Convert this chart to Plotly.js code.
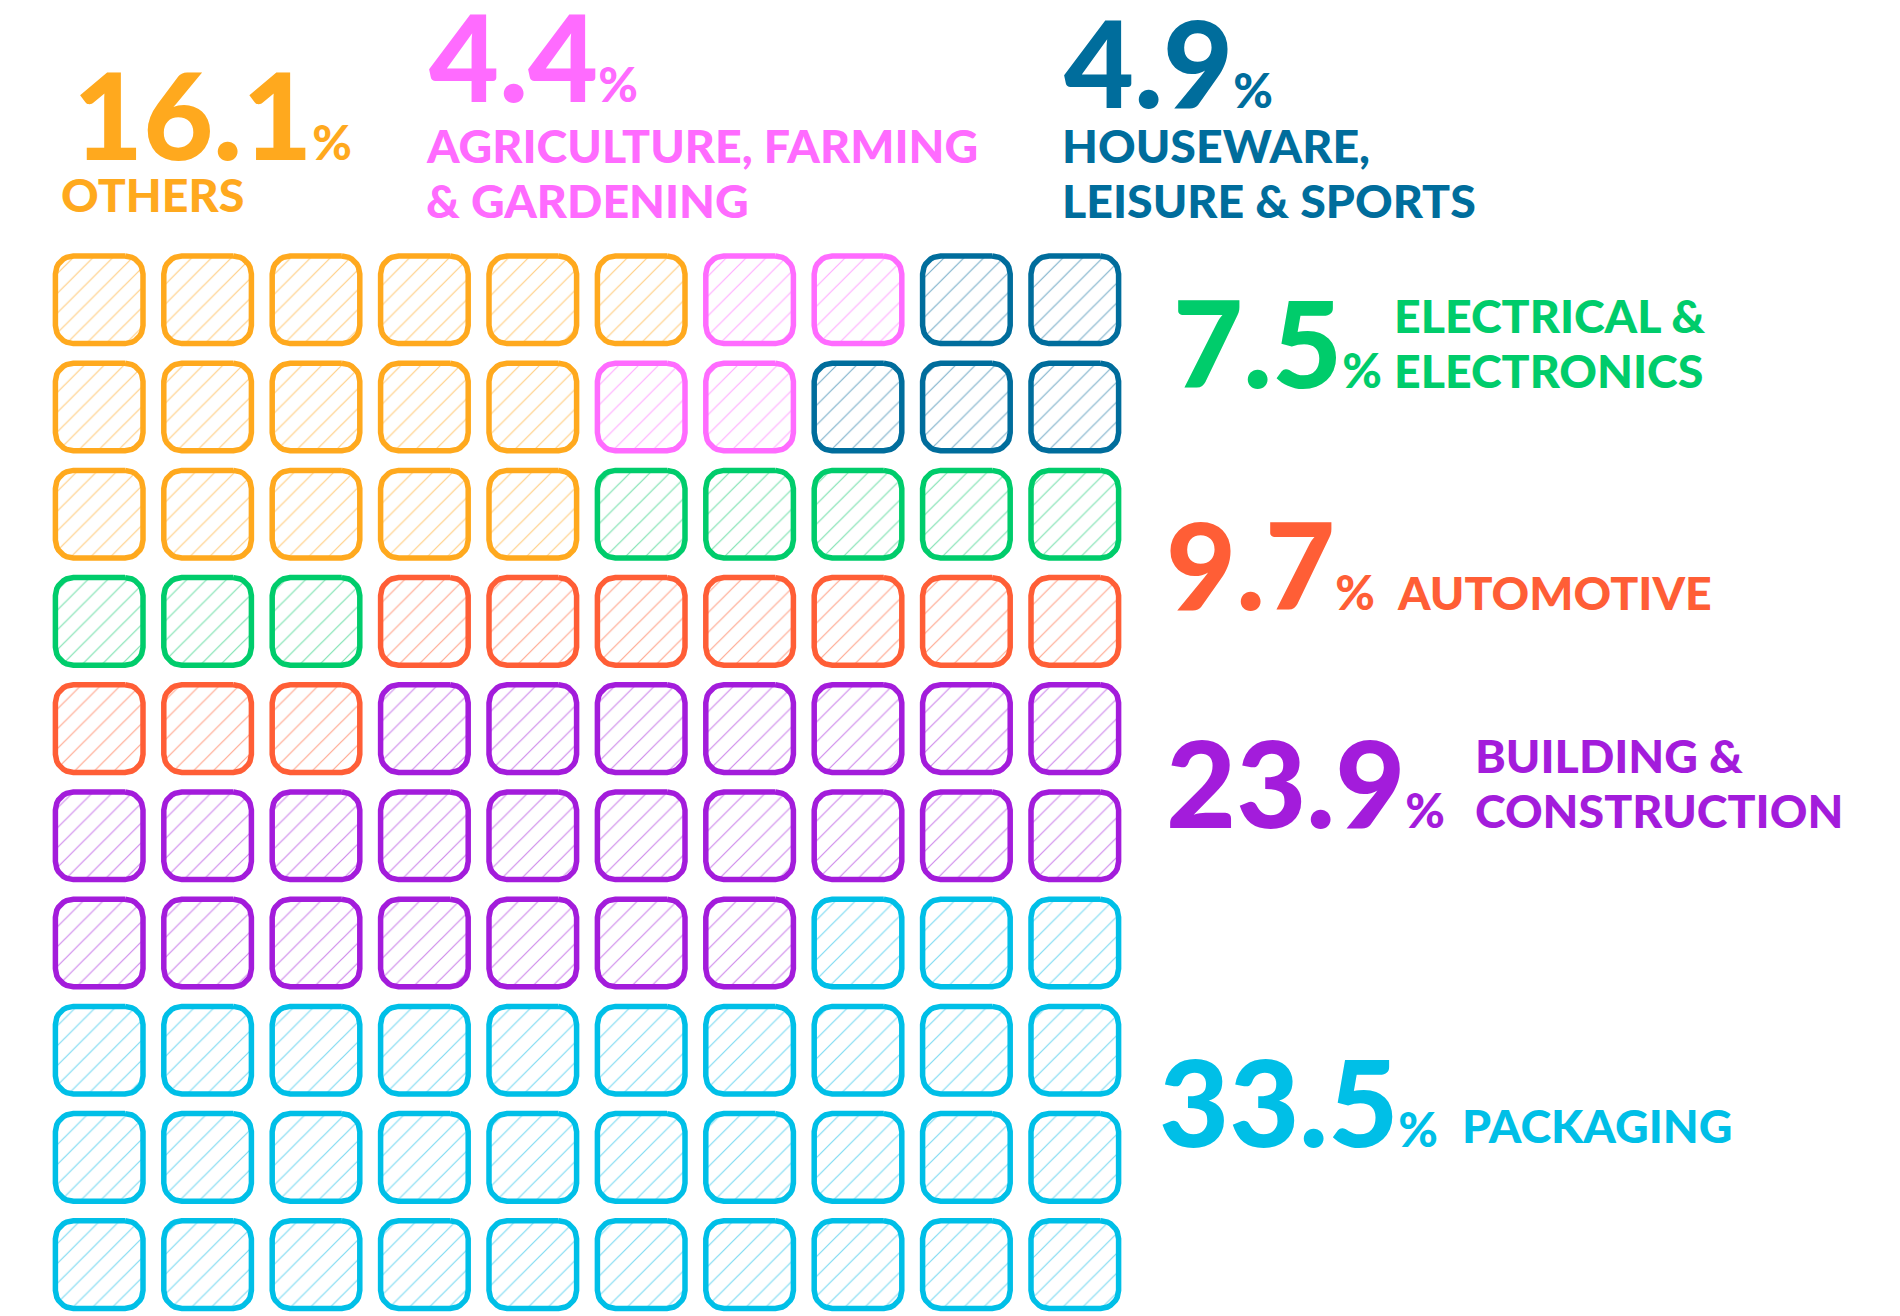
<!DOCTYPE html>
<html><head><meta charset="utf-8">
<script src="https://cdn.plot.ly/plotly-3.0.1.min.js"></script>
<style>html,body{margin:0;padding:0;background:#fff}</style>
</head><body><div id="chart" style="width:1900px;height:1316px"></div>
<script>
// ---------------- DATA ----------------
const categories = ["OTHERS", "AGRICULTURE, FARMING & GARDENING", "HOUSEWARE, LEISURE & SPORTS",
  "ELECTRICAL & ELECTRONICS", "AUTOMOTIVE", "BUILDING & CONSTRUCTION", "PACKAGING"];
const percentages = ["16.1", "4.4", "4.9", "7.5", "9.7", "23.9", "33.5"];
const squares = [16, 4, 5, 8, 10, 24, 33];
const labelLines = [["OTHERS"], ["AGRICULTURE, FARMING", "& GARDENING"], ["HOUSEWARE,", "LEISURE & SPORTS"],
  ["ELECTRICAL &", "ELECTRONICS"], ["AUTOMOTIVE"], ["BUILDING &", "CONSTRUCTION"], ["PACKAGING"]];
// bottom-up categories (filled from bottom-right, row by row) and top categories (column by column)
const bottomFill = [6, 5, 4, 3];
const topFill = [0, 1, 2];

// ---------------- STYLE ----------------
const colors = ["#FFA91E", "#FF6BFF", "#006D9C", "#00CC6B", "#FF5E36", "#A31CDB", "#00BFE7"];
const hatch = ["#FFCF85", "#FFAEFF", "#7FB3CC", "#7FE2B2", "#FFA890", "#CF8BEC", "#7FDBF2"];
const W = 1900, H = 1316;
const COLS = 10, ROWS = 10;
const PX_X = 108.4, PX_Y = 107.2;       // pixels per cell
const HALF = 43.8, RAD = 18;            // centerline half-size & corner radius (px)
// number position: [left x, cap top, cap bottom]; label: [left x, first line cap top]
const numPos = [[72, 75, 158], [428, 17, 101], [1063, 23, 107], [1172, 303, 387], [1165, 524, 609], [1165, 742, 828], [1158, 1061, 1146]];
const labPos = [[60, 179], [425, 130], [1061, 130], [1393, 300], [1396, 577], [1474, 740], [1461, 1110]];
const LINE_GAP = 55;
const NUM_SIZE = 121, PCT_SIZE = 48, LAB_SIZE = 46.5;
const FONT = "Lato, 'Open Sans', sans-serif";

// ---------------- CELL ASSIGNMENT ----------------
const assign = {};
let k = 0, cells = [];
for (let r = ROWS - 1; r >= 0; r--) for (let c = COLS - 1; c >= 0; c--) cells.push([r, c]);
bottomFill.forEach(ci => { for (let i = 0; i < squares[ci]; i++) { assign[cells[k][0] + "_" + cells[k][1]] = ci; k++; } });
const rest = [];
for (let c = 0; c < COLS; c++) for (let r = 0; r < ROWS; r++) if (assign[r + "_" + c] === undefined) rest.push([r, c]);
k = 0;
topFill.forEach(ci => { for (let i = 0; i < squares[ci]; i++) { assign[rest[k][0] + "_" + rest[k][1]] = ci; k++; } });

function roundedSquare(cx, cy, xs, ys) {
  const a = HALF - RAD;
  const corners = [[a, -a, -90], [a, a, 0], [-a, a, 90], [-a, -a, 180]];
  let first = null;
  corners.forEach(([ox, oy, a0]) => {
    for (let s = 0; s <= 8; s++) {
      const t = (a0 + s * 90 / 8) * Math.PI / 180;
      const dx = ox + RAD * Math.cos(t), dy = oy + RAD * Math.sin(t);
      const p = [cx + dx / PX_X, cy + dy / PX_Y];
      if (!first) first = p;
      xs.push(p[0]); ys.push(p[1]);
    }
  });
  xs.push(first[0]); ys.push(first[1]);
  xs.push(null); ys.push(null);
}

const traces = categories.map((name, ci) => {
  const xs = [], ys = [];
  for (let r = 0; r < ROWS; r++) for (let c = 0; c < COLS; c++)
    if (assign[r + "_" + c] === ci) roundedSquare(c, r, xs, ys);
  return {
    type: "scatter", mode: "lines", name, x: xs, y: ys,
    fill: "toself", fillcolor: "#ffffff",
    fillpattern: { shape: "/", fgcolor: hatch[ci], bgcolor: "#ffffff", size: 14, solidity: 0.085 },
    line: { color: colors[ci], width: 5.5 },
    hoverinfo: "skip", showlegend: false
  };
});

const annotations = [];
function yp(capTop, capBot, size) { const c = (capTop + capBot) / 2 - 0.0287 * size; return 1 - c / H; }
categories.forEach((name, ci) => {
  const [nx, nt, nb] = numPos[ci];
  annotations.push({
    xref: "paper", yref: "paper", x: nx / W, y: yp(nt, nb, NUM_SIZE), xanchor: "left", yanchor: "middle",
    showarrow: false, borderpad: 0,
    text: percentages[ci] + '<span style="font-size:' + PCT_SIZE + 'px">%</span>',
    font: { family: FONT, size: NUM_SIZE, weight: 900, color: colors[ci] }
  });
  labelLines[ci].forEach((line, li) => {
    const top = labPos[ci][1] + li * LINE_GAP;
    annotations.push({
      xref: "paper", yref: "paper", x: labPos[ci][0] / W, y: yp(top, top + 33.3, LAB_SIZE), xanchor: "left", yanchor: "middle",
      showarrow: false, borderpad: 0, text: line,
      font: { family: FONT, size: LAB_SIZE, weight: 900, color: colors[ci] }
    });
  });
});

const yTop = 299.8 - 0.5 * PX_Y;
const layout = {
  width: W, height: H, margin: { l: 0, r: 0, t: 0, b: 0 },
  paper_bgcolor: "#ffffff", plot_bgcolor: "#ffffff",
  xaxis: { domain: [(99.2 - 0.5 * PX_X) / W, (99.2 + 9.5 * PX_X) / W], range: [-0.5, 9.5], visible: false, fixedrange: true },
  yaxis: { domain: [(H - (299.8 + 9.45 * PX_Y)) / H, (H - yTop) / H], range: [9.45, -0.5], visible: false, fixedrange: true },
  annotations, showlegend: false
};
Plotly.newPlot("chart", traces, layout, { staticPlot: true, displayModeBar: false });
</script></body></html>
